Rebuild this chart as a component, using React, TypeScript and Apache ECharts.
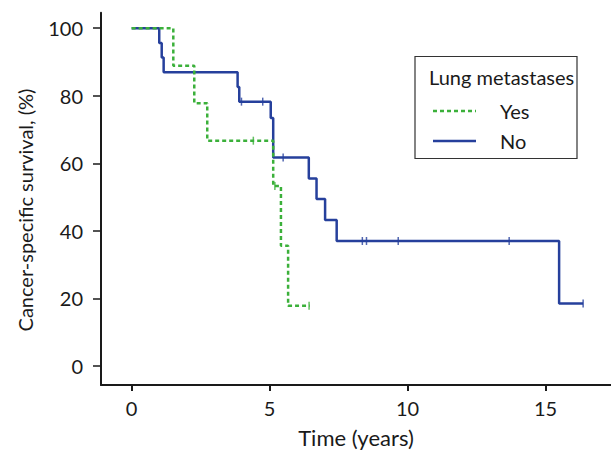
import React, { useEffect, useRef } from "react";
import * as echarts from "echarts";

const seriesNames = ["Yes", "No"];
const legendTitle = "Lung metastases";
const xTicks = [0, 5, 10, 15];
const yTicks = [0, 20, 40, 60, 80, 100];
const xAxisName = "Time (years)";
const yAxisName = "Cancer-specific survival, (%)";

// Kaplan–Meier steps [time (years), survival %]
const yesSteps: [number, number][] = [
  [0, 100], [1.51, 88.9], [2.27, 77.8], [2.74, 66.7], [5.13, 53.3], [5.41, 35.6], [5.67, 17.8], [6.45, 17.8],
];
const noSteps: [number, number][] = [
  [0, 100], [1.0, 95.65], [1.09, 91.3], [1.16, 86.96], [3.84, 82.6], [3.9, 78.26], [5.04, 73.4], [5.13, 61.7],
  [6.42, 55.5], [6.7, 49.4], [7.01, 43.2], [7.43, 37.0], [15.49, 18.5], [16.36, 18.5],
];
const yesCensored: [number, number][] = [[4.41, 66.7], [5.19, 53.3], [6.43, 17.8]];
const noCensored: [number, number][] = [
  [3.98, 78.26], [4.75, 78.26], [5.49, 61.7], [8.36, 37.0], [8.51, 37.0], [9.66, 37.0], [13.68, 37.0], [16.36, 18.5],
];

const GREEN = "#3bb03a";
const BLUE = "#26409c";
const FONT = "Lato";
const INK = "#1a1a1a";

export default function App() {
  const ref = useRef<HTMLDivElement>(null);
  useEffect(() => {
    if (!ref.current) return;
    const chart = echarts.init(ref.current, null, { renderer: "svg" });
    const axisCommon = {
      axisLine: { show: true, onZero: false, lineStyle: { color: INK, width: 2 } },
      splitLine: { show: false },
    };
    chart.setOption({
      animation: false,
      backgroundColor: "#ffffff",
      grid: { left: 101, top: 12.7, width: 510, height: 376.6, containLabel: false },
      xAxis: {
        type: "value",
        min: -1.11,
        max: 17.37,
        name: xAxisName,
        nameLocation: "middle",
        nameGap: 41,
        nameTextStyle: { fontFamily: FONT, fontSize: 22, color: INK },
        ...axisCommon,
        axisTick: { show: true, customValues: xTicks, length: 6, lineStyle: { color: INK, width: 2 } },
        axisLabel: { customValues: xTicks, margin: 13, fontFamily: FONT, fontSize: 20, color: INK },
      },
      yAxis: {
        type: "value",
        min: -5.65,
        max: 104.6,
        ...axisCommon,
        axisTick: { show: true, customValues: yTicks, length: 8, lineStyle: { color: INK, width: 1.5 } },
        axisLabel: { customValues: yTicks, margin: 18, fontFamily: FONT, fontSize: 20, color: INK },
      },
      series: [
        {
          name: seriesNames[0],
          type: "line",
          step: "end",
          data: yesSteps,
          symbol: "none",
          lineStyle: { color: GREEN, width: 2.5, type: [4, 3] },
          z: 3,
        },
        {
          name: seriesNames[1],
          type: "line",
          step: "end",
          data: noSteps,
          symbol: "none",
          lineStyle: { color: BLUE, width: 2.5 },
          z: 2,
        },
        {
          name: seriesNames[0] + " censored",
          type: "scatter",
          data: yesCensored,
          symbol: "rect",
          symbolSize: [1.5, 8],
          itemStyle: { color: GREEN },
          z: 4,
        },
        {
          name: seriesNames[1] + " censored",
          type: "scatter",
          data: noCensored,
          symbol: "rect",
          symbolSize: [1.5, 8],
          itemStyle: { color: BLUE },
          z: 4,
        },
      ],
      graphic: [
        {
          type: "text",
          x: 25,
          y: 210,
          rotation: Math.PI / 2,
          style: { text: yAxisName, fontFamily: FONT, fontSize: 20, fill: INK, align: "center", verticalAlign: "middle" },
        },
        {
          type: "rect",
          shape: { x: 415, y: 56.5, width: 162, height: 102 },
          style: { fill: "#ffffff", stroke: "#333333", lineWidth: 1.2 },
          z: 10,
        },
        {
          type: "text",
          x: 429,
          y: 77,
          style: { text: legendTitle, fontFamily: FONT, fontSize: 20, fill: INK, verticalAlign: "middle" },
          z: 11,
        },
        {
          type: "line",
          shape: { x1: 433, y1: 111, x2: 476, y2: 111 },
          style: { stroke: GREEN, lineWidth: 2.5, lineDash: [4, 3] },
          z: 11,
        },
        {
          type: "text",
          x: 500,
          y: 111,
          style: { text: seriesNames[0], fontFamily: FONT, fontSize: 20, fill: INK, verticalAlign: "middle" },
          z: 11,
        },
        {
          type: "line",
          shape: { x1: 433, y1: 141, x2: 476, y2: 141 },
          style: { stroke: BLUE, lineWidth: 2.5 },
          z: 11,
        },
        {
          type: "text",
          x: 500,
          y: 141,
          style: { text: seriesNames[1], fontFamily: FONT, fontSize: 20, fill: INK, verticalAlign: "middle" },
          z: 11,
        },
      ],
    });
    return () => chart.dispose();
  }, []);
  return (
    <div
      ref={ref}
      style={{ position: "fixed", left: 0, top: 0, width: 611, height: 453, background: "#fff" }}
    />
  );
}
